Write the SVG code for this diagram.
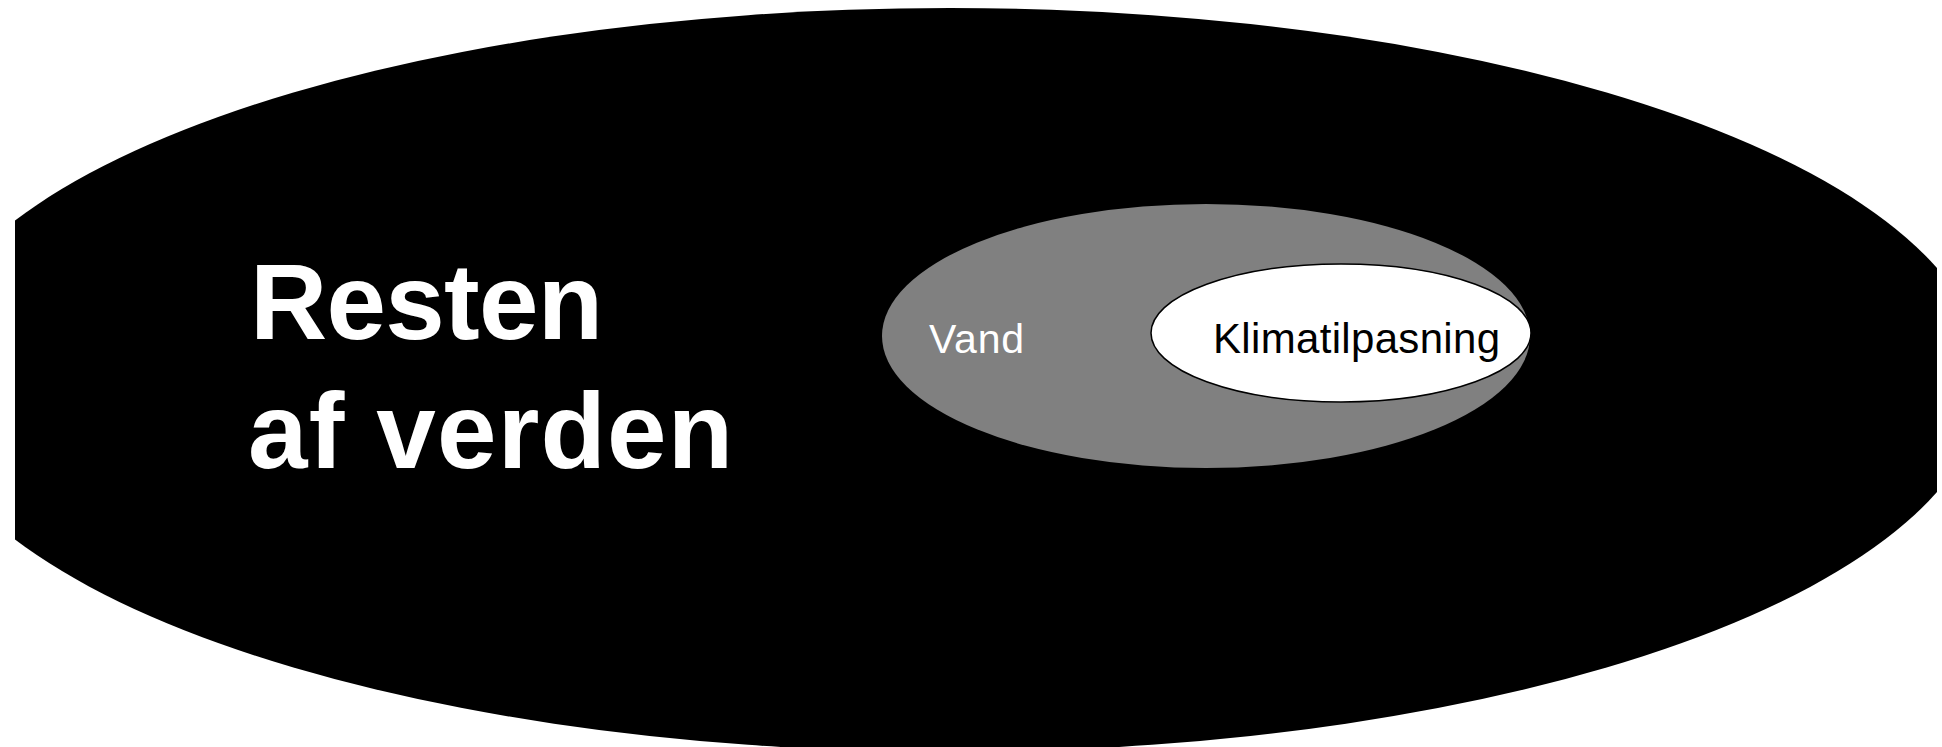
<svg xmlns="http://www.w3.org/2000/svg" width="1942" height="747" viewBox="0 0 1942 747">
<style>
.lbl{font-family:"Liberation Sans",Arial,sans-serif;}
</style>
<defs>
<clipPath id="c"><rect x="15" y="0" width="1922" height="747"/></clipPath>
</defs>
<rect width="1942" height="747" fill="#fff"/>
<g id="world">
<ellipse cx="950" cy="380" rx="1035" ry="372" fill="#000" clip-path="url(#c)"/>
<text class="lbl" x="250" y="339" font-size="107" font-weight="bold" fill="#fff" textLength="353" lengthAdjust="spacing">Resten</text>
<text class="lbl" x="248" y="468" font-size="107" font-weight="bold" fill="#fff" textLength="485" lengthAdjust="spacing">af verden</text>
</g>
<g id="vand">
<ellipse cx="1206" cy="336" rx="324" ry="132" fill="#808080"/>
<text class="lbl" x="929" y="353" font-size="41" fill="#fff" textLength="95" lengthAdjust="spacing">Vand</text>
</g>
<g id="klima">
<ellipse cx="1341" cy="333" rx="190" ry="69" fill="#fff" stroke="#000" stroke-width="1.5"/>
<text class="lbl" x="1213" y="353" font-size="42" fill="#000" textLength="287" lengthAdjust="spacing">Klimatilpasning</text>
</g>
<g id="connectors"/>
</svg>
